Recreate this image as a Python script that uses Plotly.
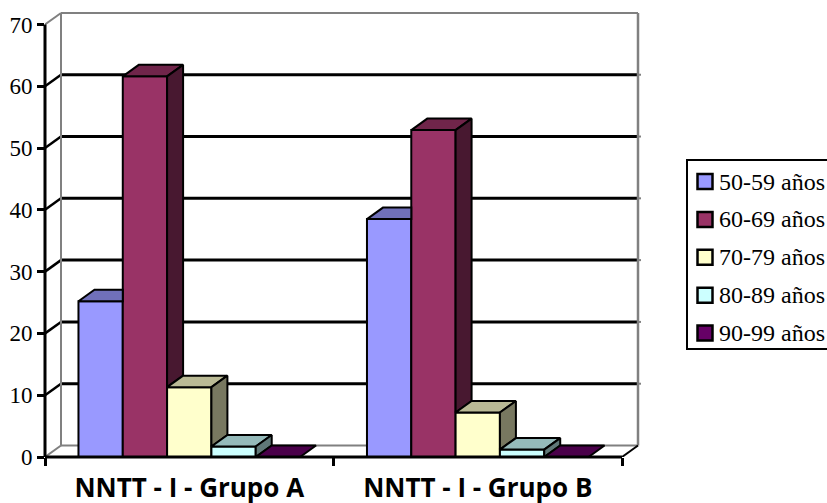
import plotly.graph_objects as go

# ---- data -------------------------------------------------------------
categories = ["NNTT - I - Grupo A", "NNTT - I - Grupo B"]
age_groups = ["50-59 años", "60-69 años", "70-79 años", "80-89 años", "90-99 años"]
grupo_a = [25.2, 61.6, 11.3, 1.7, 0.0]
grupo_b = [38.5, 52.9, 7.2, 1.2, 0.0]
y_ticks = [0, 10, 20, 30, 40, 50, 60, 70]

# ---- styling ------------------------------------------------------------
front_colors = ["#9999FF", "#993366", "#FFFFCC", "#CCFFFF", "#660066"]
SERIF = "Times New Roman, Liberation Serif, DejaVu Serif, serif"


def shade(hex_color, k):
    h = hex_color.lstrip("#")
    r, g, b = (int(h[j:j + 2], 16) for j in (0, 2, 4))
    return "#%02X%02X%02X" % (round(r * k), round(g * k), round(b * k))


top_colors = [shade(c, 0.73) for c in front_colors]
side_colors = [shade(c, 0.47) for c in front_colors]

FIG_W, FIG_H = 827, 503
M_L, M_T, M_B = 45, 9, 46
CAT_PX = 288.5                     # pixel width of one category
X_EXTRA_PX = 20                    # room for the depth of the back wall
PLOT_W = 2 * CAT_PX + X_EXTRA_PX
PLOT_H = FIG_H - M_T - M_B
M_R = FIG_W - M_L - PLOT_W
Y_MAX = 72.5
PX_PER_UNIT = PLOT_H / Y_MAX

# 3-D depth offset in data units
DX = 16 / CAT_PX
DY = 11.5 / PX_PER_UNIT

GROUP = 0.768                      # fraction of a category covered by the bars
BW = GROUP / len(age_groups)

X0, X1 = -0.5, 1.5                 # front floor edge
XR = X1 + X_EXTRA_PX / CAT_PX
STUB = 3 / CAT_PX                  # small tick stubs outside the right wall

GREY = "#808080"

fig = go.Figure()

series = [[grupo_a[i], grupo_b[i]] for i in range(len(age_groups))]

# front faces of the columns
for i, name in enumerate(age_groups):
    fig.add_trace(go.Bar(
        x=[0, 1], y=series[i], name=name,
        width=BW, offset=-GROUP / 2 + i * BW,
        marker=dict(color=front_colors[i], line=dict(color="black", width=2)),
        showlegend=False, hoverinfo="skip",
    ))

# top and side faces of the columns (hidden parts left out)
for i, name in enumerate(age_groups):
    nxt = series[i + 1] if i + 1 < len(series) else [0.0, 0.0]
    tx, ty, sx, sy = [], [], [], []
    for c in range(2):
        left = c - GROUP / 2 + i * BW
        right = left + BW
        v, n = series[i][c], nxt[c]
        if n > v:
            tx += [left, right, right, left + DX, left, None]
            ty += [v, v, v + DY, v + DY, v, None]
        else:
            tx += [left, right, right + DX, left + DX, left, None]
            ty += [v, v, v + DY, v + DY, v, None]
        if v > n:
            sx += [right, right, right + DX, right + DX, right, None]
            sy += [n, v, v + DY, n + DY, n, None]
    fig.add_trace(go.Scatter(
        x=tx, y=ty, mode="lines", fill="toself", fillcolor=top_colors[i],
        line=dict(color="black", width=2), showlegend=False, hoverinfo="skip"))
    if sx:
        fig.add_trace(go.Scatter(
            x=sx, y=sy, mode="lines", fill="toself", fillcolor=side_colors[i],
            line=dict(color="black", width=2), showlegend=False, hoverinfo="skip"))

shapes = []


def seg(x0, y0, x1, y1, color, width=2, layer="below", xref="x", yref="y"):
    shapes.append(dict(type="line", xref=xref, yref=yref, x0=x0, y0=y0,
                       x1=x1, y1=y1, layer=layer,
                       line=dict(color=color, width=width)))


# back wall grid lines and their links to the front axis
for v in y_ticks[1:-1]:
    seg(X0 + DX, v + DY, X1 + DX, v + DY, "black", 3)
    seg(X1 + DX, v + DY, X1 + DX + STUB, v + DY, GREY, 2)
    seg(X0, v, X0 + DX, v + DY, "black", 2.5)
# walls and floor edges
top = y_ticks[-1]
seg(X0 + DX, top + DY, X1 + DX, top + DY, GREY, 2)
seg(X0, top, X0 + DX, top + DY, GREY, 2)
seg(X0 + DX, DY, X0 + DX, top + DY, GREY, 2)
seg(X1 + DX, DY, X1 + DX, top + DY, GREY, 2.5)
seg(X0 + DX, DY, X1 + DX, DY, GREY, 2)
seg(X0, 0, X0 + DX, DY, GREY, 2)
seg(X1, 0, X1 + DX, DY, "black", 2)

# front axis lines
seg(0, 0, 0, top, "black", 3, layer="above", xref="x domain")
seg(X0, 0, X1, 0, "black", 3, layer="above", yref="y domain")


# legend box drawn in pixel space
def px_x(p):
    return (p - M_L) / PLOT_W


def px_y(p):
    return (FIG_H - M_B - p) / PLOT_H


shapes.append(dict(type="rect", xref="paper", yref="paper",
                   x0=px_x(687), x1=px_x(845), y0=px_y(349), y1=px_y(160),
                   line=dict(color="black", width=2), fillcolor="white",
                   layer="above"))
annotations = []
for i, name in enumerate(age_groups):
    cy = 181.5 + 37.9 * i
    shapes.append(dict(type="rect", xref="paper", yref="paper",
                       x0=px_x(697.5), x1=px_x(712.5),
                       y0=px_y(cy + 7.5), y1=px_y(cy - 7.5),
                       line=dict(color="black", width=2.5),
                       fillcolor=front_colors[i], layer="above"))
    annotations.append(dict(xref="paper", yref="paper", x=px_x(717),
                            y=px_y(cy), text=name, showarrow=False,
                            xanchor="left", yanchor="middle",
                            font=dict(family=SERIF, size=24, color="black")))

fig.update_layout(
    width=FIG_W, height=FIG_H,
    margin=dict(l=M_L, r=M_R, t=M_T, b=M_B, autoexpand=False),
    paper_bgcolor="white", plot_bgcolor="white",
    barmode="overlay",
    showlegend=False,
    shapes=shapes,
    annotations=annotations,
    xaxis=dict(
        range=[X0, XR], showgrid=False, zeroline=False, showline=False,
        tickvals=[0, 1], ticktext=categories, ticks="",
        tickfont=dict(family="Open Sans", size=26, color="black", weight="bold"),
        ticklabelstandoff=13,
        minor=dict(tickvals=[-0.5, 0.5, 1.5], ticks="outside", ticklen=8,
                   tickwidth=2.5, tickcolor="black", showgrid=False),
        fixedrange=True,
    ),
    yaxis=dict(
        range=[0, Y_MAX], showgrid=False, zeroline=False, showline=False,
        tickvals=y_ticks, ticks="outside", ticklen=7, tickwidth=2.5,
        tickcolor="black",
        tickfont=dict(family=SERIF, size=23, color="black"),
        fixedrange=True,
    ),
)

fig.write_html("out.html")
